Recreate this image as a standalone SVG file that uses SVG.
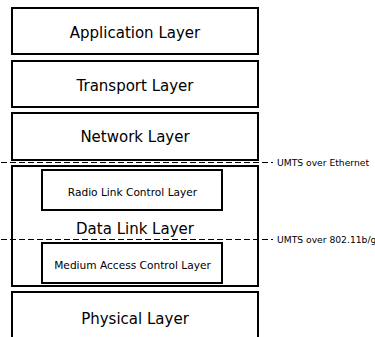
<svg xmlns="http://www.w3.org/2000/svg" width="375" height="337" viewBox="0 0 375 337">
<style>
.box{fill:#fff;stroke:#000;stroke-width:2}
.t{font-family:"DejaVu Sans",sans-serif;fill:#000;text-anchor:middle}
.big{font-size:15px}
.small{font-size:10.6px}
.lbl{font-family:"DejaVu Sans",sans-serif;font-size:9.2px;fill:#000}
.dash{stroke:#000;stroke-width:1;stroke-dasharray:6,3;fill:none}
</style>
<rect width="375" height="337" fill="#fff"/>
<g id="application">
<rect class="box" x="12" y="8" width="246" height="46"/>
<text class="t big" x="135" y="38">Application Layer</text>
</g>
<g id="transport">
<rect class="box" x="12" y="61" width="246" height="46"/>
<text class="t big" x="135" y="90.5">Transport Layer</text>
</g>
<g id="network">
<rect class="box" x="12" y="113" width="246" height="47"/>
<text class="t big" x="135" y="142">Network Layer</text>
</g>
<g id="datalink">
<rect class="box" x="12" y="166" width="246" height="120"/>
<text class="t big" x="135" y="234">Data Link Layer</text>
</g>
<g id="rlc">
<rect class="box" x="42" y="170" width="180" height="40"/>
<text class="t small" x="132.5" y="195.5">Radio Link Control Layer</text>
</g>
<g id="mac">
<rect class="box" x="42" y="243" width="180" height="40"/>
<text class="t small" x="132.5" y="268.5">Medium Access Control Layer</text>
</g>
<g id="physical">
<rect class="box" x="12" y="292" width="246" height="60"/>
<text class="t big" x="135" y="324">Physical Layer</text>
</g>
<g id="connectors">
<line class="dash" x1="1" y1="162.5" x2="273" y2="162.5"/>
<line class="dash" x1="1" y1="239.5" x2="273" y2="239.5"/>
</g>
<g id="labels">
<text class="lbl" x="277" y="166">UMTS over Ethernet</text>
<text class="lbl" x="277" y="243">UMTS over 802.11b/g</text>
</g>
</svg>
